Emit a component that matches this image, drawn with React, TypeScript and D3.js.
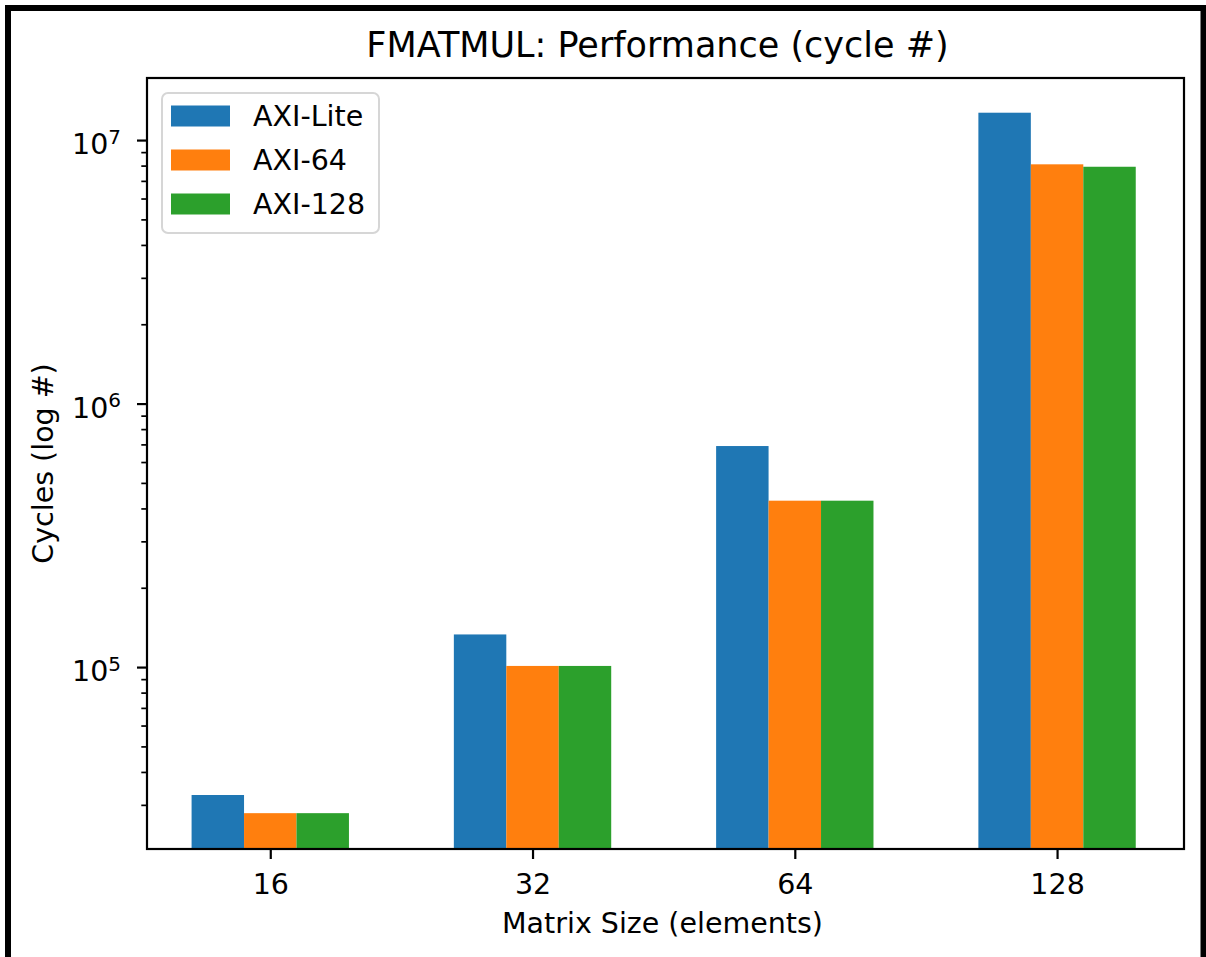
import { useEffect, useRef } from 'react';
import * as d3 from 'd3';

const categories = ['16', '32', '64', '128'];
const seriesNames = ['AXI-Lite', 'AXI-64', 'AXI-128'];
const axiLite = [32700, 133000, 690000, 12700000];
const axi64 = [27900, 101000, 428000, 8090000];
const axi128 = [27900, 101000, 428000, 7920000];
const colors = ['#1f77b4', '#ff7f0e', '#2ca02c'];
const yMajorTicks = [5, 6, 7];

const App = () => {
  const svgRef = useRef<SVGSVGElement>(null);

  useEffect(() => {
    const width = 1206;
    const height = 957;
    const margin = { top: 78, right: 22, bottom: 108, left: 147 };
    const font = '"DejaVu Sans", sans-serif';
    const series = [axiLite, axi64, axi128];

    const svg = d3.select(svgRef.current).attr('width', width).attr('height', height);
    svg.selectAll('*').remove();

    svg.append('rect').attr('width', width).attr('height', height).attr('fill', '#fff');

    // outer frame (bottom edge is cut off in the original)
    svg
      .append('path')
      .attr('d', `M8,${height + 10}V8H1203.5V${height + 10}`)
      .attr('fill', 'none')
      .attr('stroke', '#000')
      .attr('stroke-width', 6);

    const x = d3
      .scaleLinear()
      .domain([-0.47, 3.484])
      .range([margin.left, width - margin.right]);

    const y = d3
      .scaleLog()
      .domain([20400, 17200000])
      .range([height - margin.bottom, margin.top]);

    const barW = x(0.2) - x(0);

    // bars
    series.forEach((vals, j) => {
      svg
        .append('g')
        .selectAll('rect')
        .data(vals)
        .join('rect')
        .attr('x', (_, i) => x(i + (j - 1) * 0.2) - barW / 2)
        .attr('width', barW)
        .attr('y', (d) => y(d))
        .attr('height', (d) => y.range()[0] - y(d))
        .attr('fill', colors[j]);
    });

    // x axis
    const xAxis = svg
      .append('g')
      .attr('transform', `translate(0,${height - margin.bottom})`)
      .call(
        d3
          .axisBottom(x)
          .tickValues(categories.map((_, i) => i))
          .tickFormat((i) => categories[i as number])
          .tickSize(10)
          .tickPadding(12)
      );
    xAxis.select('.domain').remove();
    xAxis.selectAll('line').attr('stroke', '#000').attr('stroke-width', 2.2);
    xAxis
      .selectAll('text')
      .attr('dy', null)
      .attr('y', 45)
      .style('font-family', font)
      .style('font-size', '28.5px')
      .attr('fill', '#000');

    // y axis, minor ticks
    const [lo, hi] = y.domain();
    const minor: number[] = [];
    for (let e = 4; e <= 7; e++) {
      for (let m = 2; m <= 9; m++) {
        const v = m * Math.pow(10, e);
        if (v >= lo && v <= hi) minor.push(v);
      }
    }
    const yMinor = svg
      .append('g')
      .attr('transform', `translate(${margin.left},0)`)
      .call(d3.axisLeft(y).tickValues(minor).tickFormat(() => '').tickSize(5.7));
    yMinor.select('.domain').remove();
    yMinor.selectAll('line').attr('stroke', '#000').attr('stroke-width', 1.7);

    const yMajor = svg
      .append('g')
      .attr('transform', `translate(${margin.left},0)`)
      .call(
        d3
          .axisLeft(y)
          .tickValues(yMajorTicks.map((e) => Math.pow(10, e)))
          .tickFormat(() => '')
          .tickSize(10)
      );
    yMajor.select('.domain').remove();
    yMajor.selectAll('line').attr('stroke', '#000').attr('stroke-width', 2.2);

    const yLabels = svg
      .append('g')
      .selectAll('text')
      .data(yMajorTicks)
      .join('text')
      .attr('x', 121)
      .attr('y', (e) => y(Math.pow(10, e)) + 14)
      .attr('text-anchor', 'end')
      .style('font-family', font)
      .style('font-size', '28.5px')
      .attr('fill', '#000');
    yLabels.append('tspan').text('10');
    yLabels
      .append('tspan')
      .attr('dy', -10.5)
      .style('font-size', '20px')
      .text((e) => String(e));

    // spines
    svg
      .append('rect')
      .attr('x', margin.left)
      .attr('y', margin.top)
      .attr('width', width - margin.right - margin.left)
      .attr('height', height - margin.bottom - margin.top)
      .attr('fill', 'none')
      .attr('stroke', '#000')
      .attr('stroke-width', 2.2);

    const cx = (margin.left + width - margin.right) / 2;

    // title and axis labels
    svg
      .append('text')
      .attr('x', cx - 8)
      .attr('y', 57)
      .attr('text-anchor', 'middle')
      .style('font-family', font)
      .style('font-size', '35px')
      .attr('fill', '#000')
      .text('FMATMUL: Performance (cycle #)');

    svg
      .append('text')
      .attr('x', cx - 3)
      .attr('y', 933)
      .attr('text-anchor', 'middle')
      .style('font-family', font)
      .style('font-size', '28.5px')
      .attr('fill', '#000')
      .text('Matrix Size (elements)');

    svg
      .append('text')
      .attr('transform', `translate(52.5,${(margin.top + height - margin.bottom) / 2}) rotate(-90)`)
      .attr('text-anchor', 'middle')
      .style('font-family', font)
      .style('font-size', '28.5px')
      .attr('fill', '#000')
      .text('Cycles (log #)');

    // legend
    const legend = svg.append('g');
    legend
      .append('rect')
      .attr('x', 162)
      .attr('y', 93)
      .attr('width', 217)
      .attr('height', 140)
      .attr('rx', 6)
      .attr('fill', '#fff')
      .attr('fill-opacity', 0.8)
      .attr('stroke', '#d6d6d6')
      .attr('stroke-width', 2);

    const items = legend
      .selectAll('g.item')
      .data(seriesNames)
      .join('g')
      .attr('class', 'item')
      .attr('transform', (_, i) => `translate(0,${116 + i * 44})`);
    items
      .append('rect')
      .attr('x', 171)
      .attr('y', -10.5)
      .attr('width', 59)
      .attr('height', 21)
      .attr('fill', (_, i) => colors[i]);
    items
      .append('text')
      .attr('x', 253)
      .attr('y', 10.4)
      .style('font-family', font)
      .style('font-size', '28.5px')
      .attr('fill', '#000')
      .text((d) => d);
  }, []);

  return (
    <svg ref={svgRef} style={{ position: 'absolute', left: 0, top: 0, display: 'block' }}></svg>
  );
};

export default App;
